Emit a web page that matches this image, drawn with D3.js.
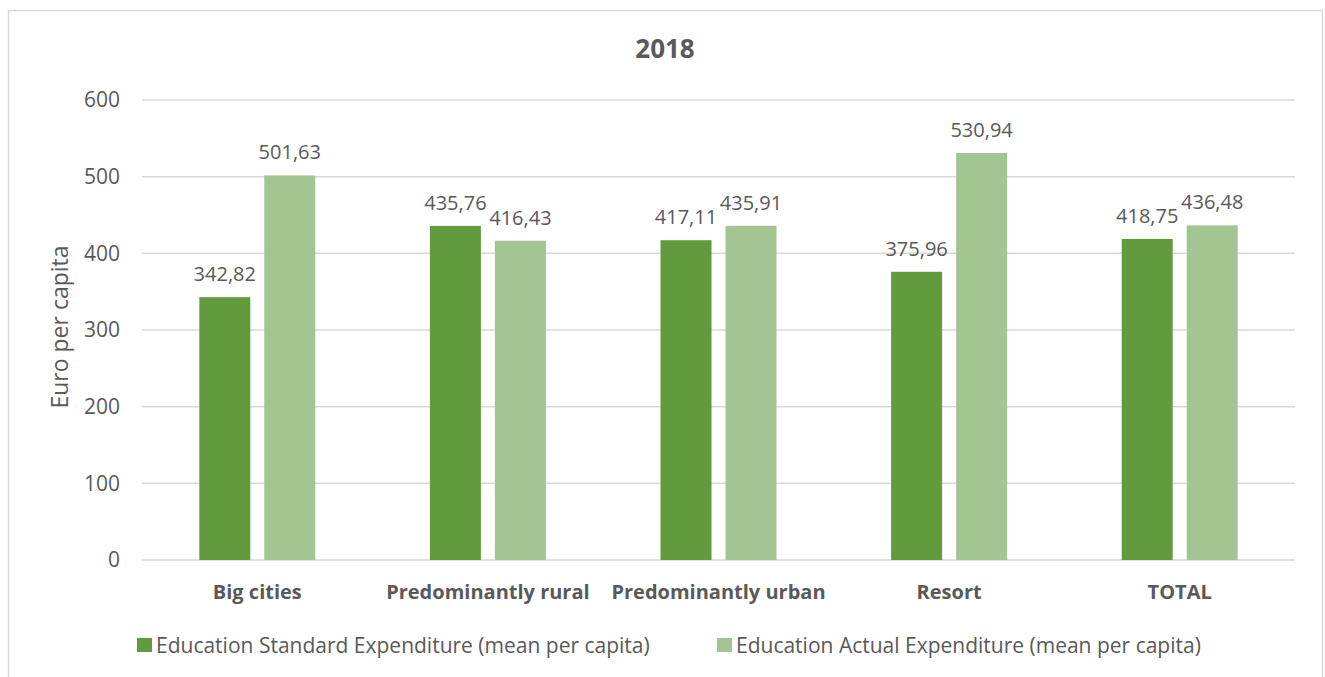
<!DOCTYPE html>
<html>
<head>
<meta charset="utf-8">
<script src="https://cdn.jsdelivr.net/npm/d3@7"></script>
<style>
  html, body { margin: 0; padding: 0; background: #fff; }
  svg { display: block; font-family: "Open Sans", sans-serif; }
</style>
</head>
<body>
<svg id="chart" width="1325" height="677"></svg>
<script>
// Education expenditure per capita by municipality type, 2018
const categories = ["Big cities", "Predominantly rural", "Predominantly urban", "Resort", "TOTAL"];
const standardValues = [342.82, 435.76, 417.11, 375.96, 418.75];
const actualValues = [501.63, 416.43, 435.91, 530.94, 436.48];
const seriesNames = [
  "Education Standard Expenditure (mean per capita)",
  "Education Actual Expenditure (mean per capita)"
];
const yTicks = [0, 100, 200, 300, 400, 500, 600];
const chartTitle = "2018";
const yAxisTitle = "Euro per capita";

const colors = ["#629a3e", "#a3c592"];
const textColor = "#595959";
const gridColor = "#d9d9d9";
const font = "'Open Sans', sans-serif";

const svg = d3.select("#chart");
const W = 1325, H = 677;
const margin = { left: 142, right: 30, top: 100, bottom: 117 };
const plotRight = W - margin.right;
const plotBottom = H - margin.bottom;

// outer frame
svg.append("rect")
  .attr("x", 8.5).attr("y", 10.5)
  .attr("width", 1314).attr("height", 680)
  .attr("fill", "#fff").attr("stroke", gridColor).attr("stroke-width", 1.5);

const x = d3.scaleBand().domain(categories).range([margin.left, plotRight]);
const y = d3.scaleLinear().domain([0, 600]).range([plotBottom, margin.top]);

// gridlines
svg.append("g").selectAll("line").data(yTicks).join("line")
  .attr("x1", margin.left).attr("x2", plotRight)
  .attr("y1", d => y(d)).attr("y2", d => y(d))
  .attr("stroke", gridColor).attr("stroke-width", 1.5);

// y axis labels
const yAxis = d3.axisLeft(y).tickValues(yTicks).tickSize(0).tickPadding(0).tickFormat(d3.format("d"));
svg.append("g")
  .attr("transform", `translate(${margin.left - 22},0)`)
  .call(yAxis)
  .call(g => g.select(".domain").remove())
  .selectAll("text")
  .attr("fill", textColor).style("font-size", "21px").style("font-family", font);

// x axis labels
const xAxis = d3.axisBottom(x).tickSize(0).tickPadding(0);
svg.append("g")
  .attr("transform", `translate(0,${plotBottom + 25})`)
  .call(xAxis)
  .call(g => g.select(".domain").remove())
  .selectAll("text")
  .attr("fill", textColor).style("font-size", "20px").style("font-weight", "bold")
  .style("font-family", font);

// grouped bars
const barW = 51, barGap = 14;
const inner = d3.scaleOrdinal().domain([0, 1])
  .range([-(barGap / 2 + barW), barGap / 2]);

const series = [standardValues, actualValues];
series.forEach((vals, si) => {
  const g = svg.append("g");
  g.selectAll("rect").data(categories).join("rect")
    .attr("x", (c) => x(c) + x.bandwidth() / 2 + inner(si))
    .attr("width", barW)
    .attr("y", (c, i) => y(vals[i]))
    .attr("height", (c, i) => y(0) - y(vals[i]))
    .attr("fill", colors[si]);
  g.selectAll("text").data(categories).join("text")
    .attr("x", (c) => x(c) + x.bandwidth() / 2 + inner(si) + barW / 2)
    .attr("y", (c, i) => y(vals[i]) - 16)
    .attr("text-anchor", "middle")
    .attr("fill", textColor)
    .style("font-size", "20px")
    .text((c, i) => d3.format(".2f")(vals[i]).replace(".", ","));
});

// title
svg.append("text")
  .attr("x", 665).attr("y", 58)
  .attr("text-anchor", "middle")
  .attr("fill", textColor)
  .style("font-size", "26px").style("font-weight", "bold")
  .text(chartTitle);

// y axis title
svg.append("text")
  .attr("transform", `translate(68,${(margin.top + plotBottom) / 2 - 3}) rotate(-90)`)
  .attr("text-anchor", "middle")
  .attr("fill", textColor)
  .style("font-size", "23px")
  .text(yAxisTitle);

// legend
const legendX = [137, 717];
const legend = svg.append("g");
seriesNames.forEach((name, i) => {
  legend.append("rect")
    .attr("x", legendX[i]).attr("y", 638)
    .attr("width", 15).attr("height", 14)
    .attr("fill", colors[i]);
  legend.append("text")
    .attr("x", legendX[i] + 19).attr("y", 652.5)
    .attr("fill", textColor)
    .style("font-size", "21px")
    .text(name);
});
</script>
</body>
</html>
